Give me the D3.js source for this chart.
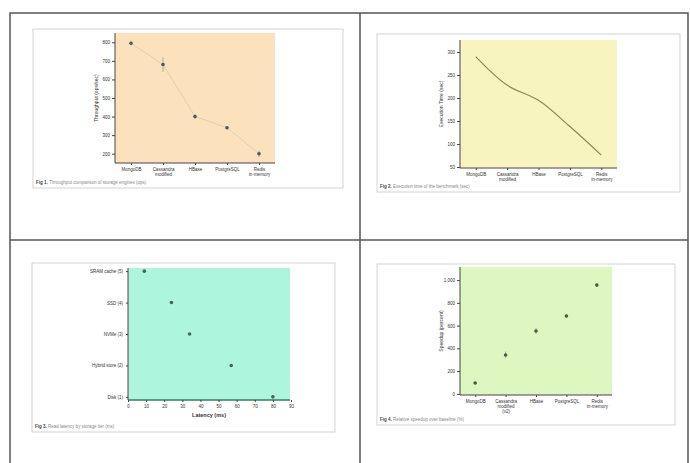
<!DOCTYPE html>
<html>
<head>
<meta charset="utf-8">
<script src="https://cdn.jsdelivr.net/npm/d3@7"></script>
<style>
  html, body { margin: 0; padding: 0; background: #fff; }
  svg text { font-family: "Liberation Sans", Arial, sans-serif; }
</style>
</head>
<body>
<div id="chart"></div>
<script>
// categories shared by the column charts
const engines = ["MongoDB", "Cassandra\nmodified", "HBase", "PostgreSQL", "Redis\nin-memory"]
const enginesFig4 = ["MongoDB", "Cassandra\nmodified\n(v2)", "HBase", "PostgreSQL", "Redis\nin-memory"]

// Fig 1: throughput
const throughput = [795, 680, 400, 340, 200]
const throughputErr = [12, 40, 14, 8, 18]
const throughputTicks = [200, 300, 400, 500, 600, 700, 800]

// Fig 2: execution time
const execTime = [290, 228, 195, 138, 76]
const execTicks = [50, 100, 150, 200, 250, 300]

// Fig 3: latency per storage tier
const tiers = ["SRAM cache (5)", "SSD (4)", "NVMe (3)", "Hybrid store (2)", "Disk (1)"]
const latency = [9, 24, 34, 57, 80]
const latencyTicks = [0, 10, 20, 30, 40, 50, 60, 70, 80, 90]

// Fig 4: speedup
const speedup = [95, 342, 553, 684, 956]
const speedupErr = [10, 30, 25, 12, 10]
const speedupTicks = [0, 200, 400, 600, 800, 1000]

const captions = [
  "Throughput comparison of storage engines (ops)",
  "Execution time of the benchmark (sec)",
  "Read latency by storage tier (ms)",
  "Relative speedup over baseline (%)"
]

const W = 690, H = 463
const tickColor = "#333"
const gridColor = "#555"

const svg = d3.select("#chart").append("svg")
  .attr("width", W).attr("height", H)

// page grid (table borders)
const grid = svg.append("g").attr("class", "grid")
grid.append("rect").attr("x", 10).attr("y", 13).attr("width", 678).attr("height", 460)
  .attr("fill", "none").attr("stroke", gridColor).attr("stroke-width", 1.5)
grid.append("line").attr("x1", 10).attr("x2", 688).attr("y1", 240).attr("y2", 240)
  .attr("stroke", gridColor).attr("stroke-width", 1.5)
grid.append("line").attr("x1", 360).attr("x2", 360).attr("y1", 13).attr("y2", H)
  .attr("stroke", gridColor).attr("stroke-width", 1.5)

function frame(box, plot, bg, figNo) {
  const g = svg.append("g")
  g.append("rect")
    .attr("x", box.x0).attr("y", box.y0)
    .attr("width", box.x1 - box.x0).attr("height", box.y1 - box.y0)
    .attr("fill", "#fff").attr("stroke", "#c8c8c8").attr("stroke-width", 0.8)
  g.append("rect")
    .attr("x", plot.x0).attr("y", plot.y0)
    .attr("width", plot.x1 - plot.x0).attr("height", plot.y1 - plot.y0)
    .attr("fill", bg)
  const cap = g.append("text")
    .attr("x", box.x0 + 3).attr("y", box.y1 - 4)
    .attr("font-size", 4.5).attr("fill", "#888")
  cap.append("tspan").attr("font-weight", "bold").attr("fill", "#444").text(`Fig ${figNo}.`)
  cap.append("tspan").text(" " + captions[figNo - 1])
  return g
}

function styleAxis(axis) {
  axis.selectAll("path").attr("stroke", "#444").attr("stroke-width", 1)
  axis.selectAll("line").attr("stroke", "#444")
  axis.selectAll("text").attr("fill", tickColor).style("font-size", "4.5px")
    .style("font-family", "Liberation Sans, Arial, sans-serif")
}

function multiline(axis) {
  axis.selectAll(".tick text").each(function(d) {
    const el = d3.select(this)
    const lines = String(d).split("\n")
    el.text(null)
    lines.forEach((l, i) => {
      el.append("tspan").attr("x", 0).attr("dy", i === 0 ? "0.71em" : "1.1em").text(l)
    })
  })
}

function yLabel(g, x, y, text) {
  g.append("text")
    .attr("transform", `translate(${x},${y}) rotate(-90)`)
    .attr("text-anchor", "middle")
    .attr("font-size", 5).attr("fill", "#333")
    .text(text)
}

function columnChart(opts) {
  const {box, plot, bg, figNo, cats, values, ticks, domain, errs, line, curve, yText, markers, lineColor} = opts
  const g = frame(box, plot, bg, figNo)

  const x = d3.scalePoint().domain(cats).range([plot.x0, plot.x1]).padding(0.5)
  const y = d3.scaleLinear().domain(domain).range([plot.y1, plot.y0])

  const ax = g.append("g").attr("transform", `translate(0,${plot.y1})`)
    .call(d3.axisBottom(x).tickSize(2).tickPadding(3).tickSizeOuter(0))
  multiline(ax)
  styleAxis(ax)
  ax.select("path").attr("d", `M${plot.x0},0H${plot.x1}`)

  const ay = g.append("g").attr("transform", `translate(${plot.x0},0)`)
    .call(d3.axisLeft(y).tickValues(ticks).tickSize(3).tickPadding(2).tickSizeOuter(0))
  styleAxis(ay)
  ay.select("path").attr("d", `M0,${plot.y1}V${plot.y0}`)

  const pts = cats.map((c, i) => ({c, v: values[i], e: errs ? errs[i] : 0}))

  if (line) {
    g.append("path").datum(pts)
      .attr("d", d3.line().x(d => x(d.c)).y(d => y(d.v)).curve(curve || d3.curveLinear))
      .attr("fill", "none").attr("stroke", lineColor).attr("stroke-width", line)
  }
  if (errs) {
    g.selectAll(".err").data(pts).join("line").attr("class", "err")
      .attr("x1", d => x(d.c)).attr("x2", d => x(d.c))
      .attr("y1", d => y(d.v - d.e)).attr("y2", d => y(d.v + d.e))
      .attr("stroke", "#888").attr("stroke-width", 0.6)
  }
  if (markers) {
    g.selectAll(".pt").data(pts).join("circle").attr("class", "pt")
      .attr("cx", d => x(d.c)).attr("cy", d => y(d.v)).attr("r", 1.8)
      .attr("fill", markers)
  }
  yLabel(g, plot.x0 - 17, (plot.y0 + plot.y1) / 2, yText)
}

columnChart({
  box: {x0: 33, y0: 29, x1: 343, y1: 188},
  plot: {x0: 115, y0: 33, x1: 275, y1: 163},
  bg: "#fbe2bd", figNo: 1, cats: engines, values: throughput, errs: throughputErr,
  ticks: throughputTicks, domain: [150, 850], line: 0.7, lineColor: "#d6c6a6",
  markers: "#555", yText: "Throughput (ops/sec)"
})

columnChart({
  box: {x0: 377, y0: 34, x1: 680, y1: 192},
  plot: {x0: 460, y0: 40, x1: 617, y1: 168},
  bg: "#f8f4c0", figNo: 2, cats: engines, values: execTime,
  ticks: execTicks, domain: [48, 326], line: 1.2, lineColor: "#8c8a5a",
  curve: d3.curveCatmullRom, yText: "Execution Time (sec)"
})

columnChart({
  box: {x0: 377, y0: 264, x1: 675, y1: 425},
  plot: {x0: 460, y0: 267, x1: 612, y1: 395},
  bg: "#def6bf", figNo: 4, cats: enginesFig4, values: speedup, errs: speedupErr,
  ticks: speedupTicks, domain: [-10, 1115], markers: "#4a5a3a", yText: "Speedup (percent)"
})

// Fig 3: horizontal dot plot
;(function() {
  const box = {x0: 32, y0: 263, x1: 335, y1: 432}
  const plot = {x0: 128, y0: 268, x1: 290, y1: 400}
  const g = frame(box, plot, "#aef5de", 3)

  const x = d3.scaleLinear().domain([0, 90]).range([plot.x0, plot.x0 + 163])
  const y = d3.scalePoint().domain(tiers).range([plot.y0, plot.y1]).padding(0.1)

  const ax = g.append("g").attr("transform", `translate(0,${plot.y1})`)
    .call(d3.axisBottom(x).tickValues(latencyTicks).tickSize(2).tickPadding(3).tickSizeOuter(0))
  styleAxis(ax)
  ax.select("path").attr("stroke", "#3a7a5e").attr("stroke-width", 1.3)
    .attr("d", `M${plot.x0},0H${plot.x1}`)

  const ay = g.append("g").attr("transform", `translate(${plot.x0},0)`)
    .call(d3.axisLeft(y).tickSize(2).tickPadding(3).tickSizeOuter(0))
  styleAxis(ay)
  ay.select("path").attr("d", `M0,${plot.y1}V${plot.y0}`)

  const pts = tiers.map((t, i) => ({t, v: latency[i]}))
  g.selectAll(".pt").data(pts).join("circle").attr("class", "pt")
    .attr("cx", d => x(d.v)).attr("cy", d => y(d.t)).attr("r", 1.8)
    .attr("fill", "#3d6a58")

  g.append("text")
    .attr("x", (plot.x0 + plot.x1) / 2).attr("y", plot.y1 + 17)
    .attr("text-anchor", "middle").attr("font-size", 5.5).attr("font-weight", "bold")
    .attr("fill", "#333").text("Latency (ms)")
})()
</script>
</body>
</html>
